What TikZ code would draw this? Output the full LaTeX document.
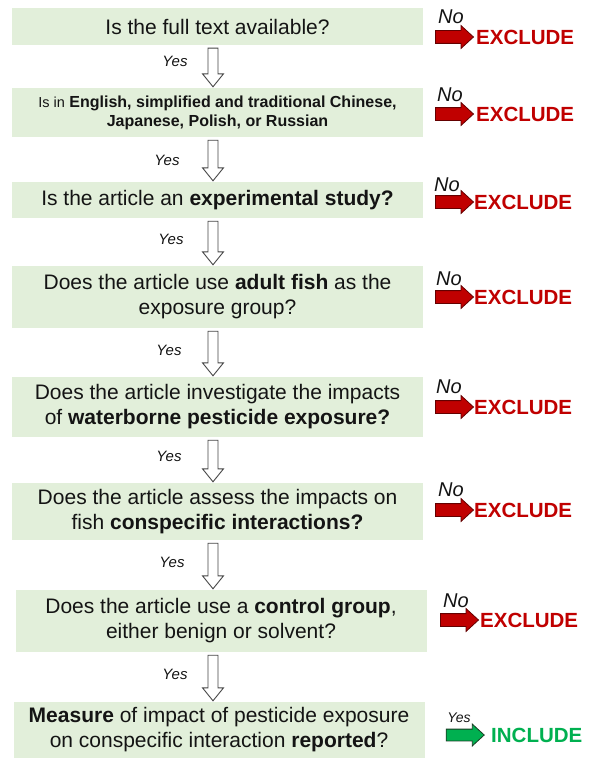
\documentclass[tikz,border=0pt]{standalone}
\usepackage{fontspec}
\setmainfont{Liberation Sans}
\usetikzlibrary{shapes.arrows,calc}
\definecolor{boxgreen}{RGB}{226,239,218}
\definecolor{exred}{RGB}{192,0,0}
\definecolor{exredd}{RGB}{100,0,0}
\definecolor{ingreen}{RGB}{0,176,80}
\definecolor{ingreend}{RGB}{25,60,35}
\definecolor{arrgray}{RGB}{70,70,70}
\definecolor{txt}{RGB}{20,20,20}
\newcommand\hollowarrow[2]{%
  \path[hollow] let \p1=(#1.south), \p2=(#2.north) in
    (208pt,\y1-3pt) -- (218pt,\y1-3pt) -- (218pt,\y2+14pt) -- (223.5pt,\y2+14pt)
    -- (213pt,\y2+1pt) -- (202.5pt,\y2+14pt) -- (208pt,\y2+14pt) -- cycle;}
\begin{document}
\begin{tikzpicture}[x=1pt,y=-1pt,
  qbox/.style={fill=boxgreen, draw=none, minimum width=411pt, align=center,
    inner sep=0pt, text=txt, font=\fontsize{21}{25}\selectfont},
  yeslab/.style={font=\itshape\fontsize{15}{18}\selectfont, text=txt, inner sep=0pt},
  nolab/.style={font=\itshape\fontsize{20}{22}\selectfont, text=txt, inner sep=0pt},
  excl/.style={font=\bfseries\fontsize{20.5}{22}\selectfont, text=exred, anchor=west, inner sep=0pt},
  incl/.style={font=\bfseries\fontsize{20.5}{22}\selectfont, text=ingreen, anchor=west, inner sep=0pt},
  redarrow/.style={single arrow, fill=exred, draw=exredd, line width=0.8pt,
    inner xsep=0pt, inner ysep=6pt, single arrow head extend=5pt,
    single arrow tip angle=85, minimum height=38pt},
  greenarrow/.style={single arrow, fill=ingreen, draw=ingreend, line width=0.8pt,
    inner xsep=0pt, inner ysep=5.5pt, single arrow head extend=5pt,
    single arrow tip angle=85, minimum height=38pt},
  hollow/.style={draw=arrgray, fill=white, line width=0.9pt, line join=miter}
]
\useasboundingbox[fill=white] (0,0) rectangle (590,760);

% question boxes
\node[qbox, minimum height=37pt] (b1) at (217.5,26.5) {Is the full text available?};
\node[qbox, minimum height=49pt, font=\fontsize{16}{19}\selectfont] (b2) at (217.5,112.5)
  {{\fontsize{14.5}{19}\selectfont Is in} \textbf{English, simplified and traditional Chinese,}\\\textbf{Japanese, Polish, or Russian}};
\node[qbox, minimum height=36pt] (b3) at (217.5,200) {Is the article an \textbf{experimental study?}};
\node[qbox, minimum height=62pt] (b4) at (217.5,297) {Does the article use \textbf{adult fish} as the\\exposure group?};
\node[qbox, minimum height=60pt] (b5) at (217.5,407) {Does the article investigate the impacts\\of \textbf{waterborne pesticide exposure?}};
\node[qbox, minimum height=57pt] (b6) at (217.5,511.5) {Does the article assess the impacts on\\fish \textbf{conspecific interactions?}};
\node[qbox, minimum height=62pt] (b7) at (221,621) {Does the article use a \textbf{control group},\\either benign or solvent?};
\node[qbox, minimum height=56pt] (b8) at (219,730) {\textbf{Measure} of impact of pesticide exposure\\on conspecific interaction \textbf{reported}?};

% yes arrows
\hollowarrow{b1}{b2}
\hollowarrow{b2}{b3}
\hollowarrow{b3}{b4}
\hollowarrow{b4}{b5}
\hollowarrow{b5}{b6}
\hollowarrow{b6}{b7}
\hollowarrow{b7}{b8}

\node[yeslab] (y1) at (175,61) {Yes};
\node[yeslab] (y2) at (167,160) {Yes};
\node[yeslab] (y3) at (171,239) {Yes};
\node[yeslab] (y4) at (169,350) {Yes};
\node[yeslab] (y5) at (169,456) {Yes};
\node[yeslab] (y6) at (172,562) {Yes};
\node[yeslab] (y7) at (175,674) {Yes};

% exclude branches
\node[nolab] (n1) at (451,17) {No};
\node[redarrow] (r1) at (451,37) {};
\node[excl] (e1) at (476,37) {EXCLUDE};

\node[nolab] (n2) at (450,95) {No};
\node[redarrow] (r2) at (451,114) {};
\node[excl] (e2) at (476,114) {EXCLUDE};

\node[nolab] (n3) at (447,185) {No};
\node[redarrow] (r3) at (451,202) {};
\node[excl] (e3) at (474,202) {EXCLUDE};

\node[nolab] (n4) at (449,279) {No};
\node[redarrow] (r4) at (451,297) {};
\node[excl] (e4) at (474,297) {EXCLUDE};

\node[nolab] (n5) at (449,387) {No};
\node[redarrow] (r5) at (451,407) {};
\node[excl] (e5) at (474,407) {EXCLUDE};

\node[nolab] (n6) at (451,490) {No};
\node[redarrow] (r6) at (451,510) {};
\node[excl] (e6) at (474,510) {EXCLUDE};

\node[nolab] (n7) at (456,601) {No};
\node[redarrow] (r7) at (456,620) {};
\node[excl] (e7) at (480,620) {EXCLUDE};

% include branch
\node[yeslab, font=\itshape\fontsize{14}{16}\selectfont] (y8) at (459,718) {Yes};
\node[greenarrow] (g8) at (462,735) {};
\node[incl] (i8) at (491,735) {INCLUDE};
\end{tikzpicture}
\end{document}
